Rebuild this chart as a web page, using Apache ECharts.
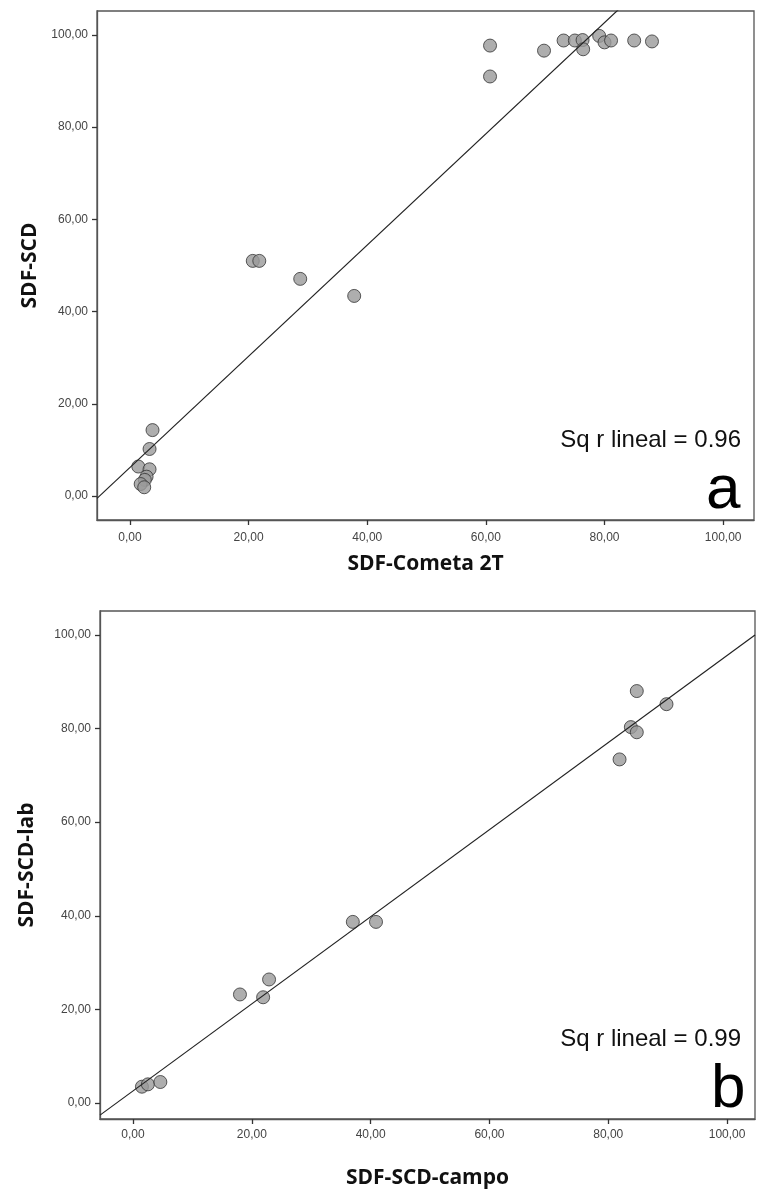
<!DOCTYPE html>
<html>
<head>
<meta charset="utf-8">
<script src="https://cdn.jsdelivr.net/npm/echarts@6/dist/echarts.min.js"></script>
<style>
  html, body { margin: 0; padding: 0; background: #fff; }
  #chart { width: 757px; height: 1193px; }
</style>
</head>
<body>
<div id="chart"></div>
<script>
// ---- Data ----
const tickValues = [0, 20, 40, 60, 80, 100];
const tickLabels = ['0,00', '20,00', '40,00', '60,00', '80,00', '100,00'];

// Panel a: SDF-Cometa 2T (x) vs SDF-SCD (y)
const cometaX = [3.8, 3.3, 1.4, 3.3, 2.8, 2.5, 1.8, 2.4,
                 20.7, 21.8, 28.7, 37.8,
                 60.7, 60.7, 69.8, 73.1, 75.0, 76.3, 76.4, 79.1, 80.0, 81.1, 85.0, 88.0];
const scdY    = [14.3, 10.2, 6.4, 5.8, 4.2, 3.5, 2.6, 1.9,
                 51.0, 51.0, 47.1, 43.4,
                 97.7, 91.0, 96.6, 98.8, 98.8, 98.9, 96.9, 99.8, 98.4, 98.8, 98.8, 98.6];
const fitA = { intercept: 6.2, slope: 1.206, r2: '0.96', tag: 'a' };

// Panel b: SDF-SCD-campo (x) vs SDF-SCD-lab (y)
const campoX = [1.5, 2.5, 4.6, 18.0, 21.9, 22.9, 37.0, 40.9, 81.9, 83.8, 84.8, 84.8, 89.8];
const labY   = [3.5, 4.0, 4.5, 23.2, 22.6, 26.4, 38.7, 38.7, 73.4, 80.3, 79.2, 88.0, 85.2];
const fitB = { intercept: 2.6, slope: 0.93, r2: '0.99', tag: 'b' };

const xTitleA = 'SDF-Cometa 2T', yTitleA = 'SDF-SCD';
const xTitleB = 'SDF-SCD-campo', yTitleB = 'SDF-SCD-lab';

// ---- Layout ----
const rangeA = { xmin: -5.56, xmax: 105.2, ymin: -5.2, ymax: 105.2 };
const rangeB = { xmin: -5.56, xmax: 104.7, ymin: -3.4, ymax: 105.1 };

const zip = (xs, ys) => xs.map((x, i) => [x, ys[i]]);
const fitLine = (f, r) => [[r.xmin, f.intercept + f.slope * r.xmin], [r.xmax, f.intercept + f.slope * r.xmax]];
const fmt = v => { const i = tickValues.indexOf(v); return i >= 0 ? tickLabels[i] : ''; };

const axisColor = '#555';
const labelStyle = { color: '#444', fontSize: 12, fontFamily: 'Liberation Sans' };
const nameStyle = { color: '#111', fontSize: 21, fontWeight: 'bold', fontFamily: 'Open Sans' };

function xAxis(gi, r, name, gap, margin) {
  return {
    type: 'value', gridIndex: gi, min: r.xmin, max: r.xmax,
    name: name, nameLocation: 'middle', nameGap: gap, nameTextStyle: nameStyle,
    axisLine: { show: true, onZero: false, lineStyle: { color: axisColor, width: 1.3 } },
    axisTick: { show: true, customValues: tickValues, length: 5, lineStyle: { color: '#333', width: 1.3 } },
    axisLabel: { customValues: tickValues, formatter: fmt, margin: margin, ...labelStyle },
    splitLine: { show: false }
  };
}
function yAxis(gi, r, name, gap) {
  return {
    type: 'value', gridIndex: gi, min: r.ymin, max: r.ymax,
    name: name, nameLocation: 'middle', nameGap: gap, nameTextStyle: nameStyle,
    axisLine: { show: true, onZero: false, lineStyle: { color: axisColor, width: 1.3 } },
    axisTick: { show: true, customValues: tickValues, length: 5, lineStyle: { color: '#333', width: 1.3 } },
    axisLabel: { customValues: tickValues, formatter: fmt, margin: 9, ...labelStyle },
    splitLine: { show: false }
  };
}
const pointStyle = { color: '#9a9a9a', borderColor: '#333', borderWidth: 1 };

const option = {
  animation: false,
  backgroundColor: '#fff',
  grid: [
    { left: 97, top: 11, width: 657, height: 509, show: true, borderColor: axisColor, borderWidth: 1.3 },
    { left: 100, top: 611, width: 655, height: 508, show: true, borderColor: axisColor, borderWidth: 1.3 }
  ],
  xAxis: [xAxis(0, rangeA, xTitleA, 34, 12), xAxis(1, rangeB, xTitleB, 49, 10)],
  yAxis: [yAxis(0, rangeA, yTitleA, 56), yAxis(1, rangeB, yTitleB, 62)],
  series: [
    { type: 'scatter', xAxisIndex: 0, yAxisIndex: 0, data: zip(cometaX, scdY), symbolSize: 13, itemStyle: pointStyle, z: 2 },
    { type: 'line', xAxisIndex: 0, yAxisIndex: 0, data: fitLine(fitA, rangeA), symbol: 'none', clip: true, lineStyle: { color: '#222', width: 1.2 }, z: 3 },
    { type: 'scatter', xAxisIndex: 1, yAxisIndex: 1, data: zip(campoX, labY), symbolSize: 13, itemStyle: pointStyle, z: 2 },
    { type: 'line', xAxisIndex: 1, yAxisIndex: 1, data: fitLine(fitB, rangeB), symbol: 'none', clip: true, lineStyle: { color: '#222', width: 1.2 }, z: 3 }
  ],
  graphic: [
    { type: 'text', right: 16, top: 428, style: { text: 'Sq r lineal = ' + fitA.r2, fontSize: 24, fontFamily: 'Liberation Sans', fill: '#111' } },
    { type: 'text', left: 706, top: 460, style: { text: fitA.tag, fontSize: 62, fontFamily: 'Liberation Sans', fill: '#000' } },
    { type: 'text', right: 16, top: 1027, style: { text: 'Sq r lineal = ' + fitB.r2, fontSize: 24, fontFamily: 'Liberation Sans', fill: '#111' } },
    { type: 'text', left: 711, top: 1059, style: { text: fitB.tag, fontSize: 62, fontFamily: 'Liberation Sans', fill: '#000' } }
  ]
};

echarts.init(document.getElementById('chart'), null, { renderer: 'canvas' }).setOption(option);
</script>
</body>
</html>
